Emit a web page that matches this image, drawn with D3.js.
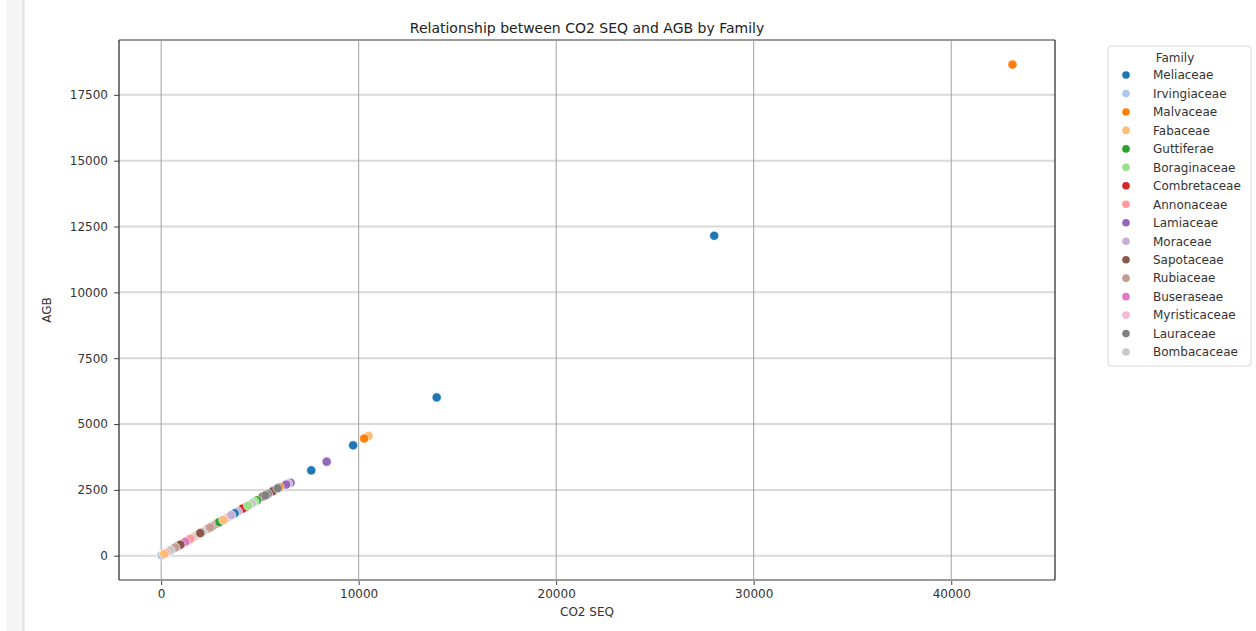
<!DOCTYPE html>
<html lang="en">
<head>
<meta charset="UTF-8">
<title>Relationship between CO2 SEQ and AGB by Family</title>
<script src="https://cdn.jsdelivr.net/npm/d3@7"></script>
<style>
  body { margin: 0; background: #fff; }
  svg { display: block; font-family: "DejaVu Sans", sans-serif; }
</style>
</head>
<body>
<svg id="chart" width="1256" height="631"></svg>
<script>
// families in legend order
var families = ["Meliaceae", "Irvingiaceae", "Malvaceae", "Fabaceae", "Guttiferae", "Boraginaceae",
  "Combretaceae", "Annonaceae", "Lamiaceae", "Moraceae", "Sapotaceae", "Rubiaceae",
  "Buseraseae", "Myristicaceae", "Lauraceae", "Bombacaceae"];
var familyColors = ["#1f77b4", "#aec7e8", "#ff7f0e", "#ffbb78", "#2ca02c", "#98df8a",
  "#d62728", "#ff9896", "#9467bd", "#c5b0d5", "#8c564b", "#c49c94",
  "#e377c2", "#f7b6d2", "#7f7f7f", "#c7c7c7"];

// one entry per tree
var pointFamily = ["Malvaceae", "Meliaceae", "Meliaceae", "Fabaceae", "Malvaceae", "Meliaceae",
  "Lamiaceae", "Meliaceae", "Lamiaceae", "Moraceae", "Lamiaceae", "Malvaceae",
  "Sapotaceae", "Lauraceae", "Sapotaceae", "Guttiferae", "Boraginaceae", "Bombacaceae",
  "Combretaceae", "Combretaceae", "Moraceae", "Meliaceae", "Myristicaceae", "Sapotaceae",
  "Sapotaceae", "Rubiaceae", "Rubiaceae", "Bombacaceae", "Rubiaceae", "Fabaceae",
  "Bombacaceae", "Annonaceae", "Buseraseae", "Sapotaceae", "Annonaceae", "Myristicaceae",
  "Irvingiaceae", "Bombacaceae", "Irvingiaceae", "Rubiaceae", "Guttiferae", "Annonaceae",
  "Lauraceae", "Boraginaceae", "Moraceae", "Fabaceae", "Buseraseae", "Sapotaceae",
  "Rubiaceae", "Bombacaceae", "Annonaceae", "Lauraceae", "Sapotaceae", "Fabaceae"];
var co2Seq = [43100, 28000, 13950, 10500, 10280, 9720,
  8380, 7600, 6550, 6420, 6330, 6000,
  5650, 5400, 5150, 4850, 4720, 4600,
  4270, 4130, 3880, 3720, 3340, 3040,
  2840, 2620, 2360, 2110, 1860, 1730,
  1600, 1350, 1100, 850, 600, 340,
  90, 40, 20, 2480, 2950, 1480,
  5900, 4400, 3550, 3150, 1230, 980,
  720, 470, 230, 5280, 1980, 150];
var agb = [18650, 12150, 6010, 4550, 4450, 4190,
  3570, 3240, 2770, 2740, 2700, 2600,
  2450, 2340, 2250, 2100, 2050, 1990,
  1840, 1790, 1680, 1610, 1440, 1310,
  1230, 1130, 1020, 910, 800, 750,
  690, 580, 470, 370, 260, 150,
  40, 20, 10, 1070, 1280, 640,
  2560, 1900, 1540, 1360, 530, 420,
  310, 200, 100, 2290, 860, 65];

var xTicks = [0, 10000, 20000, 30000, 40000];
var yTicks = [0, 2500, 5000, 7500, 10000, 12500, 15000, 17500];

var svg = d3.select("#chart");
var plotLeft = 119, plotRight = 1055, plotTop = 40, plotBottom = 580;

// left page strip
svg.append("rect").attr("x", 6).attr("y", 0).attr("width", 17).attr("height", 631).attr("fill", "#f5f5f5");
svg.append("line").attr("x1", 23.5).attr("x2", 23.5).attr("y1", 0).attr("y2", 631)
  .attr("stroke", "#e2e2e2").attr("stroke-width", 2);

var data = co2Seq.map(function(v, i) { return {x: v, y: agb[i], f: pointFamily[i]}; });

var xExt = d3.extent(co2Seq), yExt = d3.extent(agb);
var xPad = (xExt[1] - xExt[0]) * 0.05, yPad = (yExt[1] - yExt[0]) * 0.05;
var x = d3.scaleLinear().domain([xExt[0] - xPad, xExt[1] + xPad]).range([plotLeft, plotRight]);
var y = d3.scaleLinear().domain([yExt[0] - yPad, yExt[1] + yPad]).range([plotBottom, plotTop]);
var color = d3.scaleOrdinal().domain(families).range(familyColors);

var g = svg.append("g");

// grid
g.append("g").selectAll("line").data(yTicks).enter().append("line")
  .attr("x1", plotLeft).attr("x2", plotRight)
  .attr("y1", function(d) { return y(d); }).attr("y2", function(d) { return y(d); })
  .attr("stroke", "#d9d9d9").attr("stroke-width", 2);
g.append("g").selectAll("line").data(xTicks).enter().append("line")
  .attr("y1", plotTop).attr("y2", plotBottom)
  .attr("x1", function(d) { return x(d); }).attr("x2", function(d) { return x(d); })
  .attr("stroke", "#a0a0a0").attr("stroke-width", 1);

// axes
var xAxis = g.append("g").attr("transform", "translate(0," + plotBottom + ")")
  .call(d3.axisBottom(x).tickValues(xTicks).tickFormat(d3.format("d")).tickSize(5).tickPadding(4));
var yAxis = g.append("g").attr("transform", "translate(" + plotLeft + ",0)")
  .call(d3.axisLeft(y).tickValues(yTicks).tickFormat(d3.format("d")).tickSize(5).tickPadding(6));
[xAxis, yAxis].forEach(function(a) {
  a.select(".domain").remove();
  a.selectAll("text").attr("font-size", 12).attr("fill", "#333").attr("font-family", "DejaVu Sans, sans-serif");
  a.selectAll(".tick line").attr("stroke", "#444");
});

// spines
g.append("line").attr("x1", plotLeft).attr("x2", plotRight).attr("y1", plotTop).attr("y2", plotTop).attr("stroke", "#9a9a9a").attr("stroke-width", 2);
g.append("line").attr("x1", plotLeft).attr("x2", plotRight).attr("y1", plotBottom).attr("y2", plotBottom).attr("stroke", "#9a9a9a").attr("stroke-width", 2);
g.append("line").attr("x1", plotLeft).attr("x2", plotLeft).attr("y1", plotTop).attr("y2", plotBottom).attr("stroke", "#222").attr("stroke-width", 1.2);
g.append("line").attr("x1", plotRight).attr("x2", plotRight).attr("y1", plotTop).attr("y2", plotBottom).attr("stroke", "#222").attr("stroke-width", 1.2);

// points
g.append("g").selectAll("circle").data(data).enter().append("circle")
  .attr("cx", function(d) { return x(d.x); })
  .attr("cy", function(d) { return y(d.y); })
  .attr("r", 4.6)
  .attr("fill", function(d) { return color(d.f); })
  .attr("stroke", "#fff").attr("stroke-width", 0.6);

// titles
svg.append("text").attr("x", (plotLeft + plotRight) / 2).attr("y", 33).attr("text-anchor", "middle")
  .attr("font-size", 14).attr("fill", "#222").text("Relationship between CO2 SEQ and AGB by Family");
svg.append("text").attr("x", (plotLeft + plotRight) / 2).attr("y", 616).attr("text-anchor", "middle")
  .attr("font-size", 12).attr("fill", "#333").text("CO2 SEQ");
svg.append("text").attr("transform", "translate(51," + ((plotTop + plotBottom) / 2) + ") rotate(-90)")
  .attr("text-anchor", "middle").attr("font-size", 12).attr("fill", "#333").text("AGB");

// legend
var lg = svg.append("g").attr("transform", "translate(1108,46)");
lg.append("rect").attr("x", 0).attr("y", 0).attr("width", 143).attr("height", 320).attr("rx", 3)
  .attr("fill", "#fff").attr("stroke", "#d8d8d8");
lg.append("text").attr("x", 67).attr("y", 16).attr("text-anchor", "middle")
  .attr("font-size", 12).attr("fill", "#333").text("Family");
var items = lg.selectAll(".item").data(families).enter().append("g")
  .attr("transform", function(d, i) { return "translate(0," + (29 + i * 18.47) + ")"; });
items.append("circle").attr("cx", 18).attr("cy", 0).attr("r", 3.8)
  .attr("fill", function(d) { return color(d); });
items.append("text").attr("x", 45).attr("y", 4.3).attr("font-size", 12).attr("fill", "#333")
  .text(function(d) { return d; });
</script>
</body>
</html>
